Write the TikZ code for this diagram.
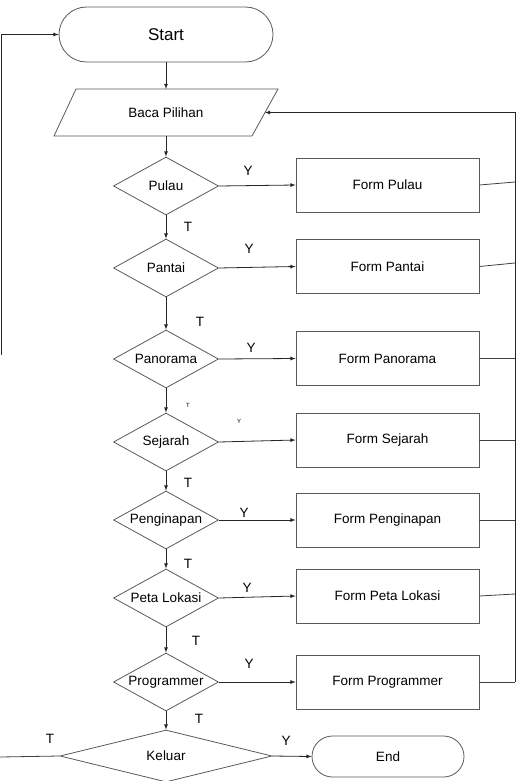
\documentclass[tikz,border=0pt]{standalone}
\usepackage{fontspec}
\setmainfont{Liberation Sans}
\usepackage{tikz}
\usetikzlibrary{shapes, shapes.geometric, positioning}

\tikzset{
	terminal/.style={draw=black!65, rectangle, rounded corners=#1, inner sep=0pt},
	pilihan/.style={draw=black!65, diamond, aspect=1.8, inner sep=0pt, minimum width=105pt, minimum height=58pt},
	form/.style={draw=black!65, rectangle, minimum width=183pt, minimum height=54pt, inner sep=0pt},
	lbl/.style={inner sep=0pt, font=\fontsize{13.5}{15}\selectfont},
	kecil/.style={inner sep=0pt, font=\fontsize{6}{7}\selectfont},
	panah/.style={-latex, black!85},
	garis/.style={black!75}
}

\begin{document}
\begin{tikzpicture}[x=1pt, y=-1pt, line width=0.8pt, font=\fontsize{13.5}{15}\selectfont]
			\useasboundingbox (0,0) rectangle (520,781);
			
			%% Start
			\node[terminal=27.5pt, minimum width=214pt, minimum height=55pt, font=\fontsize{17}{19}\selectfont] (start) at (166,34.5) {Start};
			
			%% Baca Pilihan
			\draw[black!65] (76,89) -- (278,89) -- (252,136) -- (54,136) -- cycle;
			\node[inner sep=0pt] (baca) at (166,112.5) {Baca Pilihan};
			\coordinate (bacaatas) at (166,89);
			\coordinate (bacabawah) at (166,136);
			\coordinate (bacakanan) at (265,112.5);
			
			%% Pilihan
			\node[pilihan] (pulau) at (166,186) {Pulau};
			\node[pilihan] (pantai) at (166,268) {Pantai};
			\node[pilihan] (panorama) at (166,359) {Panorama};
			\node[pilihan] (sejarah) at (166,442) {Sejarah};
			\node[pilihan] (penginapan) at (166,520) {Penginapan};
			\node[pilihan] (peta) at (166,598) {Peta Lokasi};
			\node[pilihan] (programmer) at (166,682) {Programmer};
			\node[pilihan, minimum width=212pt, minimum height=52pt] (keluar) at (166,756) {Keluar};
			
			%% Form
			\node[form] (fpulau) at (387.5,185) {Form Pulau};
			\node[form] (fpantai) at (387.5,266.5) {Form Pantai};
			\node[form] (fpanorama) at (387.5,358.5) {Form Panorama};
			\node[form] (fsejarah) at (387.5,440) {Form Sejarah};
			\node[form] (fpenginapan) at (387.5,520) {Form Penginapan};
			\node[form] (fpeta) at (387.5,596) {Form Peta Lokasi};
			\node[form] (fprogrammer) at (387.5,682) {Form Programmer};
			\node[terminal=20.5pt, minimum width=152pt, minimum height=41pt] (end) at (388,756.5) {End};
			
			%% Alur ke bawah
			\draw[panah] (start) -- (bacaatas);
			\draw[panah] (bacabawah) -- (pulau);
			\draw[panah] (pulau) -- (pantai);
			\draw[panah] (pantai) -- (panorama);
			\draw[panah] (panorama) -- (sejarah);
			\draw[panah] (sejarah) -- (penginapan);
			\draw[panah] (penginapan) -- (peta);
			\draw[panah] (peta) -- (programmer);
			\draw[panah] (programmer) -- (keluar);
			
			%% Y
			\draw[panah] (pulau.east) -- (fpulau.west);
			\draw[panah] (pantai.east) -- (fpantai.west);
			\draw[panah] (panorama.east) -- (fpanorama.west);
			\draw[panah] (sejarah.east) -- (fsejarah.west);
			\draw[panah] (penginapan.east) -- (fpenginapan.west);
			\draw[panah] (peta.east) -- (fpeta.west);
			\draw[panah] (programmer.east) -- (fprogrammer.west);
			\draw[panah] (keluar.east) -- (end.west);
			
			%% Kembali ke Baca Pilihan
			\coordinate (kanan) at (515,682);
			\draw[garis] (fpulau.east) -- (515,182);
			\draw[garis] (fpantai.east) -- (515,263);
			\draw[garis] (fpanorama.east) -- (kanan |- fpanorama.east);
			\draw[garis] (fsejarah.east) -- (kanan |- fsejarah.east);
			\draw[garis] (fpenginapan.east) -- (kanan |- fpenginapan.east);
			\draw[garis] (fpeta.east) -- (515,594);
			\draw[garis] (fprogrammer.east) -- (kanan);
			\draw[panah] (kanan) -- (kanan |- bacakanan) -- (bacakanan);
			
			%% Kembali ke Start
			\coordinate (kiri) at (1,355);
			\coordinate (ujung) at (0,757);
			\draw[panah] (kiri) |- (start.west);
			\draw[garis] (keluar.west) -- (ujung);
			
			%% Label
			\node[lbl] (y1) at (248,171) {Y};
			\node[lbl] (t1) at (188,227) {T};
			\node[lbl] (y2) at (249,249) {Y};
			\node[lbl] (t2) at (200,322) {T};
			\node[lbl] (y3) at (251,348) {Y};
			\node[kecil] (t3) at (188,405) {T};
			\node[kecil] (y4) at (239,421) {Y};
			\node[lbl] (t4) at (188,483) {T};
			\node[lbl] (y5) at (244,513) {Y};
			\node[lbl] (t5) at (188,564) {T};
			\node[lbl] (y6) at (247,588) {Y};
			\node[lbl] (t6) at (196,641) {T};
			\node[lbl] (y7) at (249,664) {Y};
			\node[lbl] (t7) at (199,719) {T};
			\node[lbl] (y8) at (286,741) {Y};
			\node[lbl] (t8) at (50,739) {T};
		\end{tikzpicture}
\end{document}
